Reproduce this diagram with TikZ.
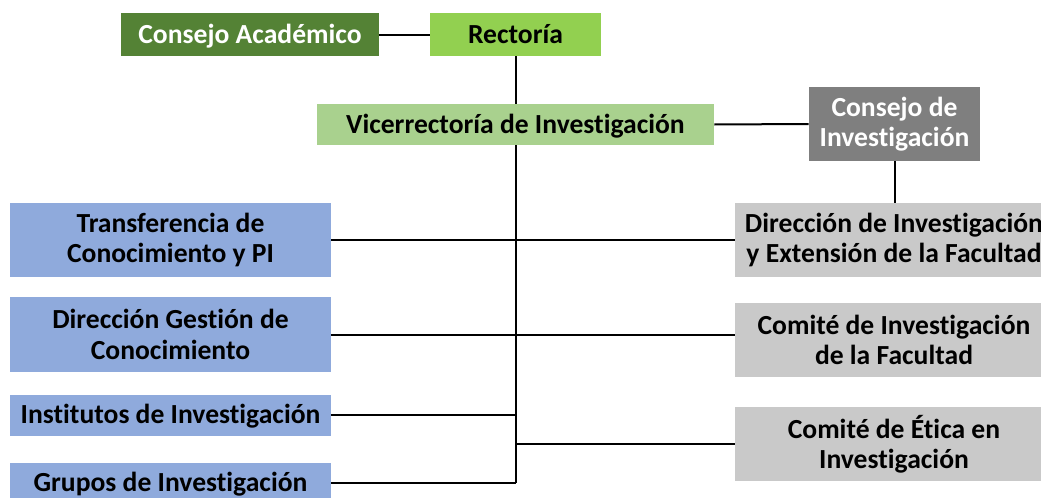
\documentclass[tikz,border=0pt]{standalone}
\usepackage{fontspec}
\setmainfont{Carlito}[RawFeature=-liga]
\usepackage{tikz}
\definecolor{darkgreen}{HTML}{548235}
\definecolor{lightgreen}{HTML}{92D050}
\definecolor{palegreen}{HTML}{A9D18E}
\definecolor{midgray}{HTML}{7F7F7F}
\definecolor{lightgray}{HTML}{C9C9C9}
\definecolor{paleblue}{HTML}{8FAADC}

\begin{document}
\begin{tikzpicture}[x=0.5pt,y=-0.5pt,
  box/.style={inner sep=0pt,align=center,font=\fontsize{13.8}{15.2}\selectfont\bfseries},
  oneline/.style={text height=11.5pt,text depth=2.8pt},
  bluebox/.style={box,fill=paleblue,minimum width=160.5pt},
  graybox/.style={box,fill=lightgray,minimum width=159pt,minimum height=37pt},
  link/.style={line width=1pt}]
\useasboundingbox (0,0) rectangle (1041,498);
\node [box,oneline,fill=darkgreen,text=white,minimum width=129pt,minimum height=21.5pt] (ca) at (250,34.5) {Consejo Académico};
\node [box,oneline,fill=lightgreen,minimum width=85.5pt,minimum height=21.5pt] (rec) at (515.5,34.5) {Rectoría};
\node [box,oneline,fill=palegreen,minimum width=198.5pt,minimum height=20.5pt] (vic) at (515.5,124.5) {Vicerrectoría de Investigación};
\node [box,fill=midgray,text=white,minimum width=85.5pt,minimum height=37pt] (cinv) at (894.5,124) {Consejo de\\Investigación};
\node [bluebox,minimum height=37pt] (tc) at (170.5,240) {Transferencia de\\Conocimiento y PI};
\node [bluebox,minimum height=37.5pt] (dgc) at (170.5,334.5) {Dirección Gestión de\\Conocimiento};
\node [bluebox,oneline,minimum height=20.5pt] (ii) at (170.5,415) {Institutos de Investigación};
\node [bluebox,oneline,minimum height=20pt] (gi) at (170.5,483) {Grupos de Investigación};
\node [graybox] (dir) at (894,240) {Dirección de Investigación\\y Extensión de la Facultad};
\node [graybox] (cif) at (894,340) {Comité de Investigación\\de la Facultad};
\node [graybox] (cei) at (894,444) {Comité de Ética en\\Investigación};
\coordinate (bot) at (515.5,483);
\draw [link] (ca.east) -- (rec.west);
\draw [link] (rec.south) -- (vic.north);
\draw [link] (vic.south) -- (bot);
\draw [link] (vic.east) -- (cinv.west);
\draw [link] (cinv.south) -- (dir.north -| cinv.south);
\draw [link] (tc.east) -- (dir.west);
\draw [link] (dgc.east) -- (dgc.east -| cif.west);
\draw [link] (ii.east) -- (ii.east -| bot);
\draw [link] (gi.east) -- (gi.east -| bot);
\draw [link] (cei.west) -- (cei.west -| bot);
\end{tikzpicture}
\end{document}
